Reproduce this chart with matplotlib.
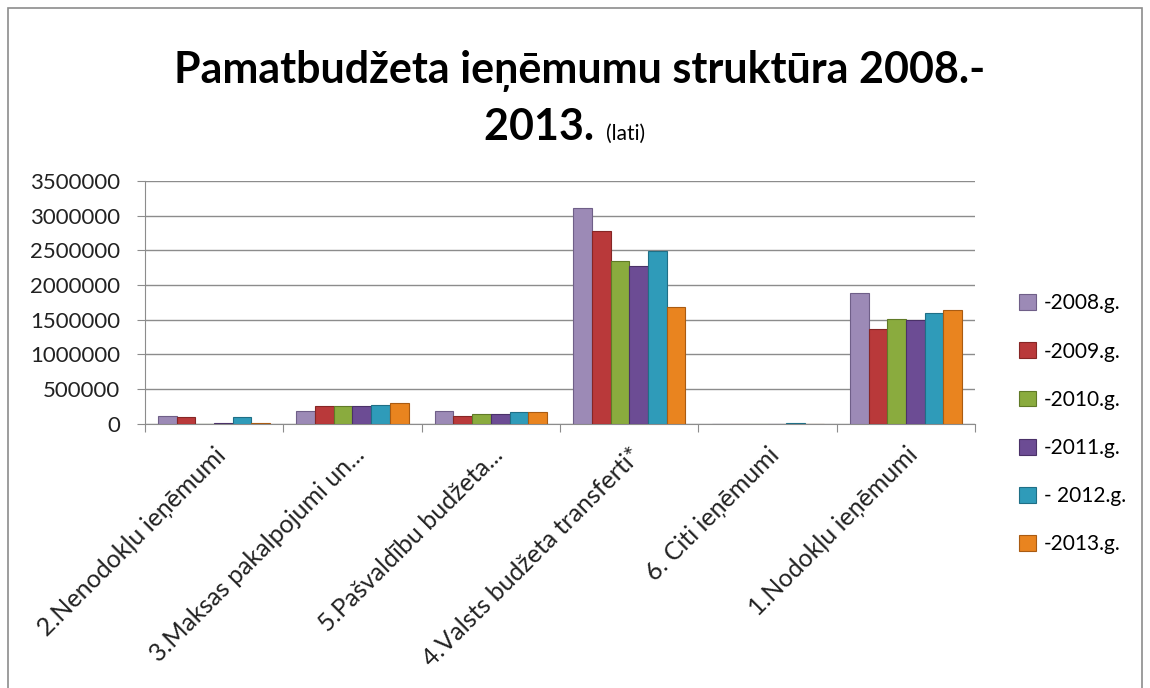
import numpy as np
import matplotlib.pyplot as plt
from matplotlib.patches import Rectangle

plt.rcParams['font.family'] = ['Lato', 'DejaVu Sans']

categories = ['2.Nenodokļu ieņēmumi', '3.Maksas pakalpojumi un...',
              '5.Pašvaldību budžeta...', '4.Valsts budžeta transferti*',
              '6. Citi ieņēmumi', '1.Nodokļu ieņēmumi']
series = ['-2008.g.', '-2009.g.', '-2010.g.', '-2011.g.', '- 2012.g.', '-2013.g.']
v2008 = [110000, 187000, 187000, 3115000, 0, 1880000]
v2009 = [96000, 250000, 106000, 2780000, 0, 1368000]
v2010 = [0, 250000, 139000, 2345000, 0, 1515000]
v2011 = [10000, 250000, 139000, 2270000, 0, 1498000]
v2012 = [100000, 268000, 173000, 2490000, 5000, 1590000]
v2013 = [5000, 307000, 173000, 1680000, 0, 1642000]
values = [v2008, v2009, v2010, v2011, v2012, v2013]
colors = ['#9c8ab6', '#b9393a', '#8aab3e', '#6c4c94', '#2f9bb9', '#e9841f']
edges = ['#6f5f88', '#862625', '#607a27', '#4a3168', '#1f6f86', '#a95b12']

fig = plt.figure(figsize=(11.5, 6.88), dpi=100)
ax = fig.add_axes([0.126, 0.384, 0.722, 0.353])

x = np.arange(len(categories))
w = 0.135
for i, (vals, c, e, lab) in enumerate(zip(values, colors, edges, series)):
    ax.bar(x + (i - 2.5) * w, vals, width=w, color=c, edgecolor=e,
           linewidth=0.8, label=lab, zorder=3)

ax.set_xlim(-0.5, len(categories) - 0.5)
ax.set_ylim(0, 3500000)
ax.set_yticks(np.arange(0, 3500001, 500000))
ax.set_yticklabels([str(v) for v in range(0, 3500001, 500000)], fontsize=16, color='#222222')
ax.yaxis.grid(True, color='#8c8c8c', linewidth=1.0, zorder=0)

ax.set_xticks(np.arange(-0.5, len(categories), 1.0))
ax.set_xticklabels([])
ax.set_xticks(x, minor=True)
ax.set_xticklabels(categories, minor=True, rotation=45, ha='right', va='top',
                   rotation_mode='anchor', fontsize=18, color='#222222')
ax.tick_params(axis='x', which='minor', length=0, pad=14)
ax.tick_params(axis='x', which='major', length=6, color='#8c8c8c', direction='out')
ax.tick_params(axis='y', length=6, color='#8c8c8c', direction='out', pad=12)

for s in ['top', 'right']:
    ax.spines[s].set_visible(False)
for s in ['left', 'bottom']:
    ax.spines[s].set_color('#8c8c8c')

leg = ax.legend(loc='center left', bbox_to_anchor=(1.03, 0.0), frameon=False,
                fontsize=15, handlelength=0.8, handleheight=0.8,
                labelspacing=1.35, handletextpad=0.4)

fig.text(0.504, 0.897, 'Pamatbudžeta ieņēmumu struktūra 2008.-',
         ha='center', va='center', fontsize=31, fontweight='bold')
fig.text(0.526, 0.797, '2013. ', ha='right', va='baseline',
         fontsize=31, fontweight='bold')
fig.text(0.527, 0.797, '(lati)', ha='left', va='baseline', fontsize=15)

fig.patches.append(Rectangle((0.007, -0.01), 0.986, 0.998, transform=fig.transFigure,
                             fill=False, edgecolor='#8c8c8c', linewidth=1.2))

fig.savefig('out.png', dpi=100)
